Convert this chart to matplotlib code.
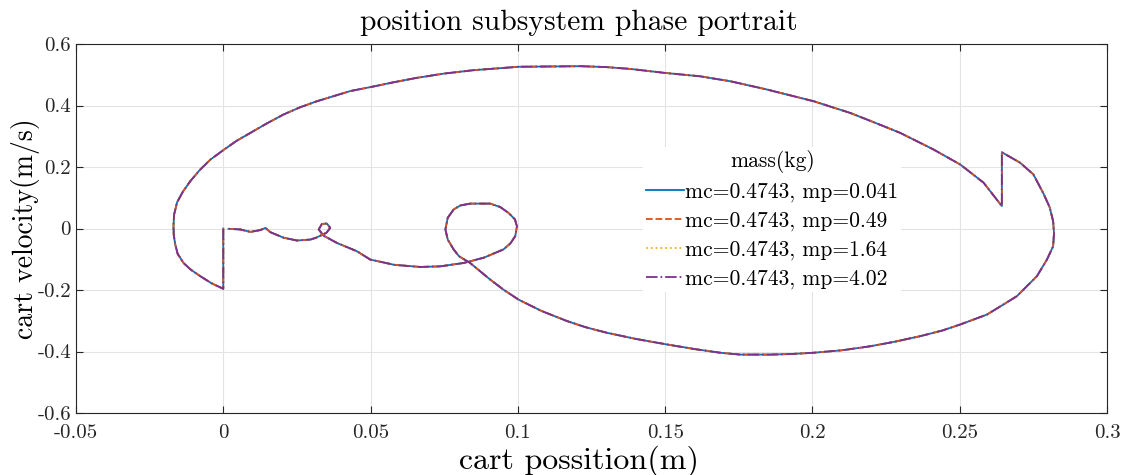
import matplotlib
matplotlib.use("Agg")
import matplotlib.pyplot as plt

plt.rcParams["font.family"] = ["cmr10", "DejaVu Serif"]
plt.rcParams["mathtext.fontset"] = "cm"
plt.rcParams["axes.unicode_minus"] = False

# traced trajectory: (cart position [m], cart velocity [m/s])
trajectory = [
    (0.0, 0.0), (0.0, -0.196), (-0.0040, -0.178), (-0.0078, -0.155), (-0.0110, -0.134),
    (-0.0135, -0.112), (-0.0155, -0.082), (-0.0163, -0.052), (-0.0168, -0.022),
    (-0.0169, 0.0075), (-0.0167, 0.045), (-0.0157, 0.085), (-0.0137, 0.120),
    (-0.0112, 0.154), (-0.0080, 0.190), (-0.0044, 0.224), (0.0003, 0.257),
    (0.0045, 0.285), (0.0092, 0.311), (0.0150, 0.343), (0.0205, 0.371), (0.0260, 0.394),
    (0.0318, 0.414), (0.0431, 0.447), (0.0505, 0.461), (0.0580, 0.476), (0.0657, 0.490),
    (0.0750, 0.504), (0.0850, 0.515), (0.1002, 0.526), (0.1212, 0.528), (0.1300, 0.525),
    (0.1382, 0.519), (0.1500, 0.506), (0.1619, 0.495), (0.1721, 0.479), (0.1846, 0.452),
    (0.2004, 0.414), (0.2128, 0.376), (0.2210, 0.345), (0.2298, 0.311), (0.2411, 0.257),
    (0.2502, 0.208), (0.2581, 0.149), (0.2643, 0.073), (0.2643, 0.248), (0.2705, 0.214),
    (0.2750, 0.176), (0.2783, 0.116), (0.2805, 0.070), (0.2817, 0.024), (0.2820, -0.015),
    (0.2817, -0.058), (0.2796, -0.101), (0.2762, -0.155), (0.2694, -0.220),
    (0.2635, -0.255), (0.2592, -0.280), (0.2502, -0.312), (0.2440, -0.332),
    (0.2366, -0.350), (0.2280, -0.368), (0.2196, -0.383), (0.2100, -0.396),
    (0.2004, -0.404), (0.1930, -0.408), (0.1857, -0.410), (0.1755, -0.410),
    (0.1687, -0.404), (0.1600, -0.392), (0.1506, -0.377), (0.1400, -0.359),
    (0.1302, -0.339), (0.1230, -0.321), (0.1167, -0.301), (0.1080, -0.268),
    (0.1002, -0.231), (0.0950, -0.198), (0.0906, -0.166), (0.0838, -0.112),
    (0.0800, -0.090), (0.0782, -0.068), (0.0762, -0.036), (0.0754, -0.003),
    (0.0762, 0.035), (0.0782, 0.062), (0.0805, 0.075), (0.0838, 0.081), (0.0906, 0.081),
    (0.0940, 0.070), (0.0968, 0.051), (0.0990, 0.030), (0.0997, 0.007), (0.0991, -0.025),
    (0.0975, -0.048), (0.0951, -0.068), (0.0884, -0.095), (0.0816, -0.112),
    (0.0737, -0.123), (0.0669, -0.125), (0.0580, -0.118), (0.0499, -0.101),
    (0.0454, -0.074), (0.0386, -0.047), (0.0340, -0.023), (0.0324, -0.003),
    (0.0335, 0.015), (0.0352, 0.016), (0.0363, 0.002), (0.0350, -0.014),
    (0.0315, -0.030), (0.0295, -0.036), (0.0250, -0.039), (0.0205, -0.030),
    (0.0160, -0.012), (0.0143, 0.002), (0.0126, -0.005), (0.0092, -0.011),
    (0.0058, -0.003), (0.0018, -0.001),
]
position = [p for p, v in trajectory]
velocity = [v for p, v in trajectory]

series_labels = ["mc=0.4743, mp=0.041", "mc=0.4743, mp=0.49",
                 "mc=0.4743, mp=1.64", "mc=0.4743, mp=4.02"]
series_colors = ["#0072BD", "#D95319", "#EDB120", "#7E2F8E"]
series_styles = ["-", "--", ":", "-."]

xticks = [-0.05, 0, 0.05, 0.1, 0.15, 0.2, 0.25, 0.3]
xtick_labels = ["-0.05", "0", "0.05", "0.1", "0.15", "0.2", "0.25", "0.3"]
yticks = [-0.6, -0.4, -0.2, 0, 0.2, 0.4, 0.6]
ytick_labels = ["-0.6", "-0.4", "-0.2", "0", "0.2", "0.4", "0.6"]

fig = plt.figure(figsize=(11.24, 4.75), dpi=100)
ax = fig.add_axes([0.0676, 0.1305, 0.9173, 0.7768])

for label, color, style in zip(series_labels, series_colors, series_styles):
    ax.plot(position, velocity, style, color=color, lw=1.3, label=label)

ax.set_xlim(-0.05, 0.3)
ax.set_ylim(-0.6, 0.6)
ax.set_xticks(xticks)
ax.set_xticklabels(xtick_labels)
ax.set_yticks(yticks)
ax.set_yticklabels(ytick_labels)
ax.tick_params(direction="in", top=True, right=True, length=5, width=0.8,
               labelsize=15, colors="#262626")
ax.tick_params(axis="x", pad=8)
for spine in ax.spines.values():
    spine.set_color("#262626")
    spine.set_linewidth(0.8)
ax.grid(True, color="#e3e3e3", lw=0.8)
ax.set_axisbelow(True)

ax.set_title("position subsystem phase portrait", fontsize=21.3, pad=10, x=0.488)
ax.set_xlabel("cart possition(m)", fontsize=23, labelpad=0)
ax.xaxis.set_label_coords(0.488, -0.088)
ax.set_ylabel("cart velocity(m/s)", fontsize=20, labelpad=-2)

leg = ax.legend(title="mass(kg)", loc="upper left", bbox_to_anchor=(0.55, 0.721),
                borderaxespad=0, fontsize=15.5, title_fontsize=15.5,
                frameon=True, fancybox=False, framealpha=1, edgecolor="none",
                facecolor="white", handlelength=1.75, handletextpad=0.05,
                borderpad=0.15, labelspacing=0.42)

fig.savefig("out.png", dpi=100)
